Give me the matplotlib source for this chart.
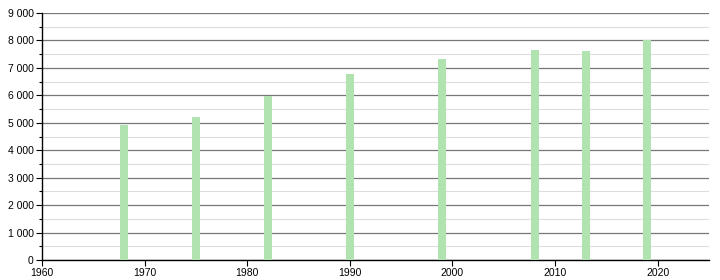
import matplotlib
matplotlib.use("Agg")
import matplotlib.pyplot as plt
from matplotlib.ticker import FuncFormatter, MultipleLocator

# population per census year
years = [1968, 1975, 1982, 1990, 1999, 2008, 2013, 2019]
population = [4920, 5210, 5990, 6780, 7320, 7650, 7620, 8010]

BAR_COLOR = "#b1e3b1"


def thousands(value, pos):
    return f"{int(value):,}".replace(",", " ")


plt.rcParams["font.family"] = ["Liberation Sans", "DejaVu Sans"]

fig = plt.figure(figsize=(7.2, 2.8), dpi=100)
ax = fig.add_axes([0.0583, 0.0714, 0.9264, 0.8822])

ax.bar(years, population, width=0.78, color=BAR_COLOR, zorder=3)

ax.set_xlim(1960, 2025)
ax.set_ylim(0, 9000)
ax.xaxis.set_major_locator(MultipleLocator(10))
ax.yaxis.set_major_locator(MultipleLocator(1000))
ax.yaxis.set_minor_locator(MultipleLocator(500))
ax.yaxis.set_major_formatter(FuncFormatter(thousands))

ax.grid(axis="y", which="major", color="#777777", linewidth=0.9, zorder=1)
ax.grid(axis="y", which="minor", color="#dddddd", linewidth=0.8, zorder=1)

for side in ("top", "right"):
    ax.spines[side].set_visible(False)
for side in ("left", "bottom"):
    ax.spines[side].set_color("black")
    ax.spines[side].set_linewidth(1.0)

ax.tick_params(axis="both", which="major", labelsize=7.5, length=4, width=0.8, pad=2)
ax.tick_params(axis="y", which="minor", length=2, width=0.8)

fig.savefig("out.png", dpi=100)
